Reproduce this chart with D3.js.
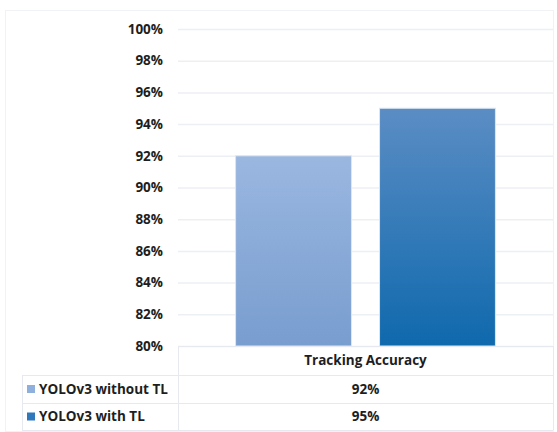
<!DOCTYPE html>
<html>
<head>
<meta charset="utf-8">
<script src="https://cdn.jsdelivr.net/npm/d3@7"></script>
<style>
  body { margin:0; background:#fff; }
  text { font-family: "Open Sans", Lato, sans-serif; font-weight:bold; fill:#1e1e1e; }
</style>
</head>
<body>
<svg width="557" height="432"></svg>
<script>
const category = ['Tracking Accuracy'];
const series = ['YOLOv3 without TL', 'YOLOv3 with TL'];
const values = [92, 95];
const yTicks = [80, 82, 84, 86, 88, 90, 92, 94, 96, 98, 100];

const colors = [ {top:'#9ab7e0', bot:'#789dcf', sw:'#8fb0dc'},
                 {top:'#5b8dc4', bot:'#0f69ad', sw:'#2f78bb'} ];

const L = 178, R = 553, T = 29, B = 346;  // plot area
const rowH = [29, 28, 27];              // table rows

let svg = d3.select('svg');

// outer frame
svg.append('rect').attr('x', 5.5).attr('y', 10.5).attr('width', 548).attr('height', 421)
  .attr('fill', 'none').attr('stroke', '#f0f2f6');

let y = d3.scaleLinear().domain([80, 100]).range([B, T]);
let x0 = d3.scaleBand().domain(category).range([L, R]);
let x1 = d3.scaleBand().domain(series).range([0, x0.bandwidth()]).paddingInner(0.195).paddingOuter(0.4);

// gridlines
svg.append('g').selectAll('line').data(yTicks).enter().append('line')
  .attr('x1', L).attr('x2', R).attr('y1', d => y(d) + 0.5).attr('y2', d => y(d) + 0.5)
  .attr('stroke', '#eceff4').attr('stroke-width', 1.5);

// tick labels
svg.append('g').selectAll('text').data(yTicks).enter().append('text')
  .attr('x', 163).attr('y', d => y(d)).attr('dy', '0.35em').attr('text-anchor', 'end')
  .style('font-size', '13.5px').text(d => d + '%');

// gradients
let defs = svg.append('defs');
colors.forEach((c, i) => {
  let g = defs.append('linearGradient').attr('id', 'g' + i)
    .attr('x1', 0).attr('y1', 0).attr('x2', 0).attr('y2', 1);
  g.append('stop').attr('offset', '0%').attr('stop-color', c.top);
  g.append('stop').attr('offset', '100%').attr('stop-color', c.bot);
});

// bars
svg.append('g').selectAll('rect').data(values).enter().append('rect')
  .attr('x', (d, i) => x0(category[0]) + x1(series[i]))
  .attr('y', d => y(d))
  .attr('width', x1.bandwidth())
  .attr('height', d => B - y(d))
  .attr('fill', (d, i) => 'url(#g' + i + ')')
  .attr('stroke', '#dce6f3').attr('stroke-width', 1);

// data table
let tb = svg.append('g').attr('stroke', '#e6e9f0').attr('fill', 'none');
let y1 = B + rowH[0], y2 = y1 + rowH[1], y3 = y2 + rowH[2];
tb.append('line').attr('x1', L + 0.5).attr('x2', L + 0.5).attr('y1', B).attr('y2', y3);
tb.append('line').attr('x1', R + 0.5).attr('x2', R + 0.5).attr('y1', B).attr('y2', y3);
tb.append('line').attr('x1', 22.5).attr('x2', 22.5).attr('y1', y1).attr('y2', y3);
tb.append('line').attr('x1', L).attr('x2', R).attr('y1', B + 0.5).attr('y2', B + 0.5);
[y1, y2, y3].forEach(yy => tb.append('line').attr('x1', 22).attr('x2', R).attr('y1', yy + 0.5).attr('y2', yy + 0.5));

svg.append('text').attr('x', (L + R) / 2).attr('y', B + rowH[0] / 2).attr('dy', '0.35em')
  .attr('text-anchor', 'middle').style('font-size', '13.5px').text(category[0]);

let rowsY = [y1, y2];
series.forEach((s, i) => {
  let cy = rowsY[i] + rowH[i + 1] / 2;
  svg.append('rect').attr('x', 27).attr('y', cy - 4).attr('width', 8).attr('height', 8)
    .attr('fill', colors[i].sw);
  svg.append('text').attr('x', 39).attr('y', cy).attr('dy', '0.35em')
    .style('font-size', '13.5px').text(s);
  svg.append('text').attr('x', (L + R) / 2).attr('y', cy).attr('dy', '0.35em')
    .attr('text-anchor', 'middle').style('font-size', '13.5px').text(values[i] + '%');
});
</script>
</body>
</html>
